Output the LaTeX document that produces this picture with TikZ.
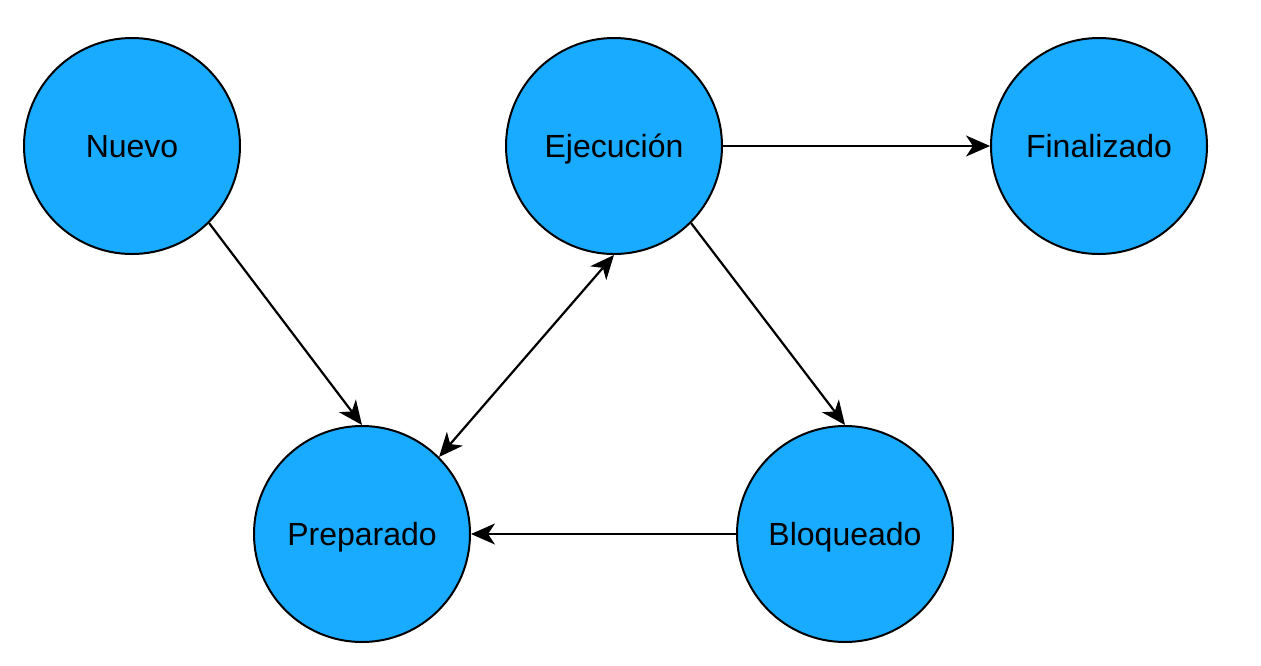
\documentclass[tikz,border=0pt]{standalone}
\usepackage{fontspec}
\setmainfont{Liberation Sans}
\usetikzlibrary{arrows.meta}
\definecolor{stateblue}{HTML}{18ABFF}
\begin{document}
\begin{tikzpicture}[x=1pt,y=-1pt,
  state/.style={circle,draw=black,line width=2pt,fill=stateblue,minimum size=216pt,inner sep=0pt,text height=27pt,text depth=4pt,font=\fontsize{32}{38}\selectfont},
  conn/.style={line width=2.2pt,-{Stealth[length=24pt,width=21pt,inset=7pt]}},
  bconn/.style={line width=2.2pt,{Stealth[length=24pt,width=21pt,inset=7pt]}-{Stealth[length=24pt,width=21pt,inset=7pt]}}]
\useasboundingbox (0,0) rectangle (1261,665);
\node[state] (nuevo) at (132,146) {Nuevo};
\node[state] (ejec) at (614,146) {Ejecución};
\node[state] (fin) at (1099,146) {Finalizado};
\node[state] (prep) at (362,534) {Preparado};
\node[state] (bloq) at (845,534) {Bloqueado};
\draw[conn] (nuevo.-45) -- (prep.north);
\draw[bconn] (ejec.south) -- (prep.45);
\draw[conn] (ejec.east) -- (fin.west);
\draw[conn] (ejec.-45) -- (bloq.north);
\draw[conn] (bloq.west) -- (prep.east);
\end{tikzpicture}
\end{document}
